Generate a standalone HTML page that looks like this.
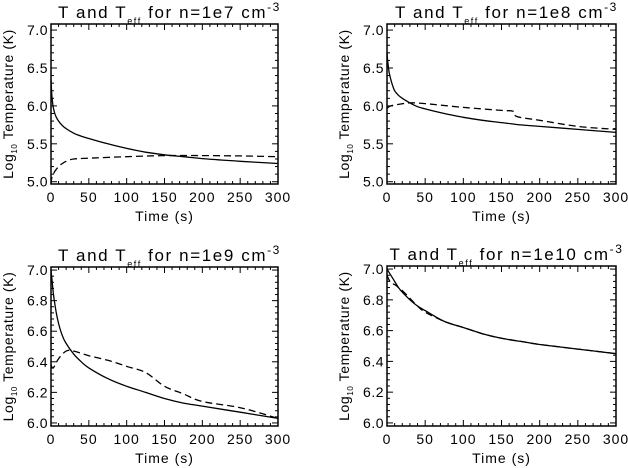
<!DOCTYPE html>
<html><head><meta charset="utf-8"><style>
html,body{margin:0;padding:0;background:#fff;}
svg{display:block;font-family:"Liberation Sans",sans-serif;}
</style></head><body>
<svg id="c" width="628" height="468" viewBox="0 0 628 468"></svg>
<script>
const times1=[0,1,2,3,5,7,10,15,20,30,40,50,75,100,125,150,175,200,250,300];
const temp1=[6.35,6.15,6.05,5.98,5.9,5.85,5.8,5.74,5.7,5.64,5.6,5.57,5.5,5.44,5.39,5.355,5.33,5.305,5.27,5.24];
const timesE1=[0,1,3,6,10,15,20,30,50,100,150,200,250,300];
const teff1=[4.97,5.05,5.1,5.15,5.2,5.24,5.27,5.3,5.31,5.33,5.345,5.345,5.34,5.33];
const times2=[0,1,2,3,5,7,10,15,20,30,40,50,75,100,125,150,175,200,250,300];
const temp2=[6.7,6.58,6.5,6.43,6.35,6.28,6.2,6.14,6.1,6.04,5.99,5.96,5.9,5.85,5.81,5.78,5.75,5.73,5.69,5.65];
const timesE2=[0,5,15,30,50,100,150,165,170,200,250,300];
const teff2=[5.97,6.0,6.02,6.04,6.03,5.98,5.94,5.93,5.86,5.81,5.73,5.69];
const times3=[0,1,2,3,5,7,10,15,20,30,40,50,75,100,125,150,175,200,250,300];
const temp3=[7.0,6.95,6.9,6.85,6.78,6.72,6.65,6.57,6.52,6.45,6.4,6.36,6.29,6.24,6.2,6.16,6.13,6.11,6.07,6.03];
const timesE3=[0,3,10,20,30,50,75,100,125,150,175,200,250,300];
const teff3=[6.38,6.36,6.42,6.47,6.47,6.44,6.41,6.37,6.33,6.24,6.19,6.14,6.1,6.03];
const times4=[0,5,10,15,20,30,40,50,75,100,125,150,175,200,250,300];
const temp4=[7.0,6.96,6.92,6.88,6.85,6.8,6.76,6.73,6.66,6.62,6.58,6.55,6.53,6.51,6.48,6.45];
const teff4=[6.96,6.91,6.9,6.88,6.86,6.81,6.76,6.72,6.66,6.62,6.58,6.55,6.53,6.51,6.48,6.45];
const densLabels=["1e7","1e8","1e9","1e10"];
const yTicksTop=[5.0,5.5,6.0,6.5,7.0];
const yTicksBot=[6.0,6.2,6.4,6.6,6.8,7.0];
const xTicks=[0,50,100,150,200,250,300];

const svg=document.getElementById('c');
const NS='http://www.w3.org/2000/svg';
function mk(tag,attrs,parent){const e=document.createElementNS(NS,tag);for(const k in attrs)e.setAttribute(k,attrs[k]);(parent||svg).appendChild(e);return e;}
function smooth(pts){
 let d='M'+pts[0][0].toFixed(1)+','+pts[0][1].toFixed(1);
 for(let i=0;i<pts.length-1;i++){
  const p0=pts[Math.max(0,i-1)],p1=pts[i],p2=pts[i+1],p3=pts[Math.min(pts.length-1,i+2)];
  const c1=[p1[0]+(p2[0]-p0[0])/6,p1[1]+(p2[1]-p0[1])/6];
  const c2=[p2[0]-(p3[0]-p1[0])/6,p2[1]-(p3[1]-p1[1])/6];
  d+='C'+c1.map(v=>v.toFixed(1)).join(',')+' '+c2.map(v=>v.toFixed(1)).join(',')+' '+p2[0].toFixed(1)+','+p2[1].toFixed(1);
 }
 return d;
}

const panels=[
 {x0:51,x1:278,y0:24,y1:184,ymin:4.97,ymax:7.08,yt:yTicksTop,t:times1,T:temp1,te:timesE1,E:teff1,lab:densLabels[0]},
 {x0:387,x1:616,y0:24,y1:184,ymin:4.97,ymax:7.08,yt:yTicksTop,t:times2,T:temp2,te:timesE2,E:teff2,lab:densLabels[1]},
 {x0:51,x1:278,y0:267,y1:426,ymin:5.98,ymax:7.02,yt:yTicksBot,t:times3,T:temp3,te:timesE3,E:teff3,lab:densLabels[2]},
 {x0:387,x1:616,y0:266,y1:426,ymin:5.98,ymax:7.02,yt:yTicksBot,t:times4,T:temp4,te:times4,E:teff4,lab:densLabels[3]}
];
panels.forEach((p,i)=>{
 const g=mk('g',{});
 
 
 const X=v=>p.x0+(v-0)/300*(p.x1-p.x0);
 const Y=v=>p.y1-(v-p.ymin)/(p.ymax-p.ymin)*(p.y1-p.y0);
 const box=mk('rect',{x:p.x0,y:p.y0,width:p.x1-p.x0,height:p.y1-p.y0,fill:'none',stroke:'#000','stroke-width':1.5},g);
 
 
 for(let v=0;v<=300;v+=10){
  const major=v%50===0, L=major?6:3;
  mk('line',{x1:X(v),x2:X(v),y1:p.y1,y2:p.y1-L,stroke:'#000'},g);
  mk('line',{x1:X(v),x2:X(v),y1:p.y0,y2:p.y0+L,stroke:'#000'},g);
 }
 xTicks.forEach(v=>{const t=mk('text',{x:X(v),y:p.y1+18,'text-anchor':'middle','font-size':14,'letter-spacing':1},g);t.textContent=v;
  });
 const step=p.yt[1]-p.yt[0], minor=step/5;
 for(let v=p.yt[0];v<=p.ymax+1e-6;v+=minor){
  const major=Math.abs((v-p.yt[0])/step-Math.round((v-p.yt[0])/step))<1e-3, L=major?6:3;
  mk('line',{x1:p.x0,x2:p.x0+L,y1:Y(v),y2:Y(v),stroke:'#000'},g);
  mk('line',{x1:p.x1,x2:p.x1-L,y1:Y(v),y2:Y(v),stroke:'#000'},g);
 }
 p.yt.forEach(v=>{const t=mk('text',{x:p.x0-3,y:Y(v)+5,'text-anchor':'end','font-size':14,'letter-spacing':0.5},g);t.textContent=v.toFixed(1);
  });
 const l1=mk('path',{d:smooth(p.t.map((v,k)=>[X(v),Y(p.T[k])])),fill:'none',stroke:'#000','stroke-width':1.3},g);
 
 
 const l2=mk('path',{d:smooth(p.te.map((v,k)=>[X(v),Y(p.E[k])])),fill:'none',stroke:'#000','stroke-width':1.3,'stroke-dasharray':'7,4'},g);
 
 
 const cx=(p.x0+p.x1)/2;
 const tt=mk('text',{x:cx+5,y:p.y0-6,'text-anchor':'middle','font-size':17,'letter-spacing':1.6},g);
 tt.innerHTML='T and T<tspan font-size="9" dy="6">eff</tspan><tspan dy="-6"> for n='+p.lab+' cm</tspan><tspan font-size="12" dy="-7">-3</tspan>';
 
 
 const xt=mk('text',{x:cx,y:p.y1+37,'text-anchor':'middle','font-size':14,'letter-spacing':1},g);
 xt.textContent='Time (s)';
 
 
 const yx=p.x0-38, yc=(p.y0+p.y1)/2;
 const yt=mk('text',{x:yx,y:yc,'text-anchor':'middle','font-size':14,'letter-spacing':0.6,transform:'rotate(-90 '+yx+' '+yc+')'},g);
 yt.innerHTML='Log<tspan font-size="8" dy="4">10</tspan><tspan dy="-4"> Temperature (K)</tspan>';
 
 
});
</script>
</body></html>
